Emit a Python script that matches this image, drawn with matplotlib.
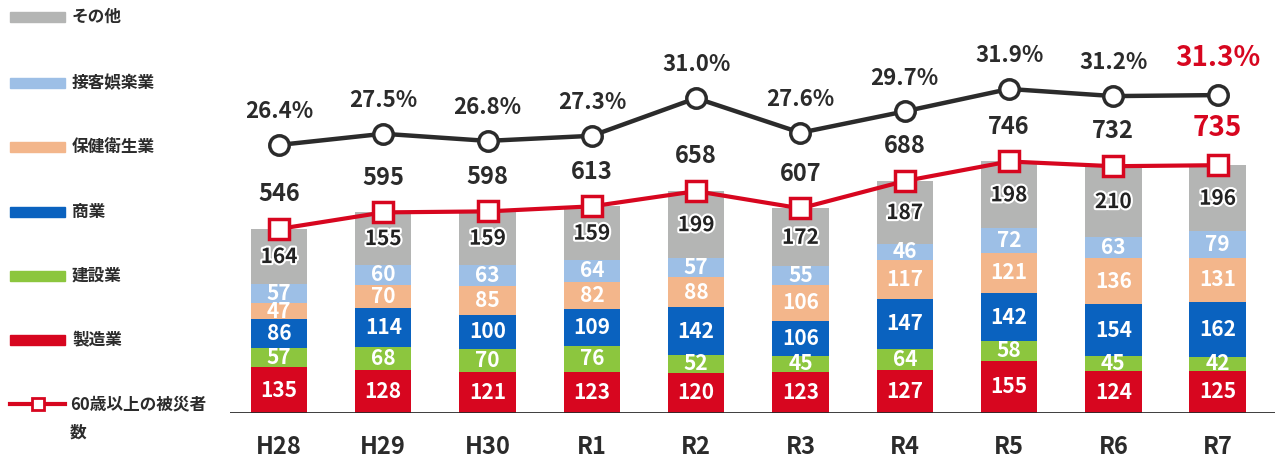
import matplotlib
matplotlib.use('Agg')
import matplotlib.pyplot as plt
import matplotlib.patheffects as pe
from matplotlib.patches import Rectangle
from matplotlib.lines import Line2D

plt.rcParams['font.family'] = ['Noto Sans CJK JP', 'DejaVu Sans']
plt.rcParams['font.weight'] = 'bold'

# ---------------------------------------------------------------------
# data

years = ['H28', 'H29', 'H30', 'R1', 'R2', 'R3', 'R4', 'R5', 'R6', 'R7']

industries = ['製造業', '建設業', '商業', '保健衛生業', '接客娯楽業', 'その他']

manufacturing = [135, 128, 121, 123, 120, 123, 127, 155, 124, 125]
construction = [57, 68, 70, 76, 52, 45, 64, 58, 45, 42]
commerce = [86, 114, 100, 109, 142, 106, 147, 142, 154, 162]
health = [47, 70, 85, 82, 88, 106, 117, 121, 136, 131]
entertainment = [57, 60, 63, 64, 57, 55, 46, 72, 63, 79]
other = [164, 155, 159, 159, 199, 172, 187, 198, 210, 196]

totals = [546, 595, 598, 613, 658, 607, 688, 746, 732, 735]
ratio = [26.4, 27.5, 26.8, 27.3, 31.0, 27.6, 29.7, 31.9, 31.2, 31.3]

line_label = '60歳以上の被災者\n数'

series = [manufacturing, construction, commerce, health, entertainment, other]
colors = ['#d7061f', '#8cc63e', '#0a62bf', '#f3b68b', '#9dbfe6', '#b4b5b4']
text_colors = ['white', 'white', 'white', 'white', 'white', '#222222']

RED = '#d7061f'
DARK = '#2b2b2b'

# ---------------------------------------------------------------------

fig = plt.figure(figsize=(12.79, 4.59), dpi=100)

ax = fig.add_axes([230 / 1279, 46 / 459, 1045 / 1279, 413 / 459])
ax.set_xlim(-0.47, 9.55)
ax.set_ylim(0, 1225)

x = list(range(len(years)))
bottoms = [0] * len(years)

for vals, col, tcol in zip(series, colors, text_colors):
    ax.bar(x, vals, 0.54, bottom=bottoms, color=col, zorder=2)
    for i, v in enumerate(vals):
        t = ax.text(i, bottoms[i] + v / 2, str(v), ha='center', va='center',
                    color=tcol, fontsize=15, fontweight='bold', zorder=3)
        if tcol != 'white':
            t.set_path_effects([pe.withStroke(linewidth=3, foreground='white')])
    bottoms = [b + v for b, v in zip(bottoms, vals)]

# totals line
ax.plot(x, totals, color=RED, lw=3, marker='s', markersize=14,
        markerfacecolor='white', markeredgecolor=RED, markeredgewidth=2.5,
        zorder=5)

for i, v in enumerate(totals):
    last = i == len(totals) - 1
    ax.annotate(str(v), (i, v), xytext=(0, 27 if last else 25),
                textcoords='offset points',
                ha='center', va='center', fontsize=20 if last else 17,
                fontweight='bold', color=RED if last else DARK, zorder=6)

ax.axhline(0, color=DARK, lw=2, zorder=4)

for s in ax.spines.values():
    s.set_visible(False)
ax.set_yticks([])
ax.set_xticks(x)
ax.set_xticklabels(years, fontsize=17, fontweight='bold', color=DARK)
ax.tick_params(axis='x', length=0, pad=16)

# ratio line
ax2 = ax.twinx()
ax2.set_ylim(0.07, 40.64)
ax2.plot(x, ratio, color=DARK, lw=3.2, marker='o', markersize=14,
         markerfacecolor='white', markeredgecolor=DARK, markeredgewidth=2.5,
         zorder=5)

for i, v in enumerate(ratio):
    last = i == len(ratio) - 1
    ax2.annotate('%.1f%%' % v, (i, v), xytext=(0, 27 if last else 24),
                 textcoords='offset points',
                 ha='center', va='center', fontsize=20 if last else 16,
                 fontweight='bold', color=RED if last else DARK)

for s in ax2.spines.values():
    s.set_visible(False)
ax2.set_yticks([])

# ---------------------------------------------------------------------
# legend column on the left

lax = fig.add_axes([0, 0, 230 / 1279, 1])
lax.set_xlim(0, 230)
lax.set_ylim(459, 0)
lax.axis('off')

legend_y = [340, 276, 212, 147, 83, 17]

for name, col, yy in zip(industries, colors, legend_y):
    lax.add_patch(Rectangle((10, yy - 5), 55, 10, color=col))
    lax.text(72, yy, name, ha='left', va='center', fontsize=12,
             fontweight='bold', color=DARK)

lax.add_line(Line2D([10, 65], [404, 404], color=RED, lw=3))
lax.plot([38], [404], marker='s', markersize=8, markerfacecolor='white',
         markeredgecolor=RED, markeredgewidth=2)
lax.text(70, 404, line_label.split('\n')[0], ha='left', va='center',
         fontsize=12, fontweight='bold', color=DARK)
lax.text(70, 433, line_label.split('\n')[1], ha='left', va='center',
         fontsize=12, fontweight='bold', color=DARK)

fig.savefig('out.png', dpi=100)
